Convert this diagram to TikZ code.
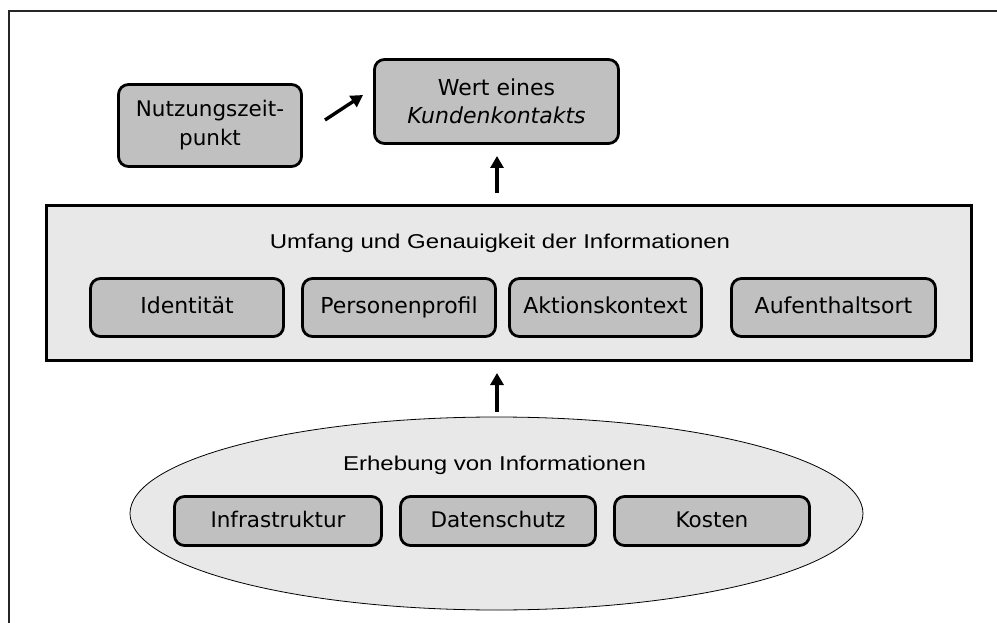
\documentclass[tikz,border=0pt]{standalone}
\usepackage{fontspec}
\setmainfont{DejaVu Sans}
\newfontfamily\arialfont{Liberation Sans}[FakeStretch=1.2]
\usetikzlibrary{shapes.geometric,arrows.meta}
\definecolor{boxgray}{HTML}{C0C0C0}
\definecolor{lightgray}{HTML}{E8E8E8}
\tikzset{
  box/.style={draw=black, line width=2.8pt, rounded corners=10pt, fill=boxgray,
    inner sep=0pt, align=center, font=\fontsize{22}{28}\selectfont},
  onebox/.style={box, text height=16pt, text depth=4pt},
  container/.style={draw=black, line width=2.8pt, fill=lightgray, inner sep=0pt},
  title/.style={font=\arialfont\fontsize{20}{24}\selectfont, inner sep=0pt},
  arr/.style={line width=3.4pt, -{Triangle[length=12pt,width=13pt]}},
}
\begin{document}
\begin{tikzpicture}[x=1pt,y=-1pt]
\useasboundingbox (0,0) rectangle (997,623);
\draw[line width=1.4pt, draw=black!85] (9,623) -- (9,11) -- (997,11);

% top boxes
\node[box, font=\fontsize{21.5}{29}\selectfont, minimum width=183pt, minimum height=82pt] (nz) at (210,125.5) {Nutzungszeit-\\punkt};
\node[box, minimum width=244pt, minimum height=84pt] (wert) at (496.5,101.5) {Wert eines\\\textit{Kundenkontakts}};

% container
\node[container, minimum width=925pt, minimum height=155pt] (cont) at (509,283) {};
\node[title] (umfang) at (500,243) {Umfang und Genauigkeit der Informationen};
\node[onebox, minimum width=193pt, minimum height=58pt] (id) at (187,307.5) {Identität};
\node[onebox, minimum width=193pt, minimum height=58pt] (pp) at (399,307.5) {Personenprofil};
\node[onebox, minimum width=192pt, minimum height=58pt] (ak) at (605.5,307.5) {Aktionskontext};
\node[onebox, minimum width=204pt, minimum height=58pt] (ao) at (833.5,307.5) {Aufenthaltsort};

% ellipse
\node[ellipse, draw=black, line width=0.8pt, fill=lightgray, minimum width=733pt, minimum height=193pt, inner sep=0pt] (ell) at (496.5,513.5) {};
\node[title] (erh) at (494.5,465) {Erhebung von Informationen};
\node[onebox, font=\fontsize{21.5}{26}\selectfont, minimum width=207pt, minimum height=49pt] (inf) at (278,521) {Infrastruktur};
\node[onebox, font=\fontsize{21.5}{26}\selectfont, minimum width=195pt, minimum height=49pt] (ds) at (498,521) {Datenschutz};
\node[onebox, font=\fontsize{21.5}{26}\selectfont, minimum width=195pt, minimum height=49pt] (ko) at (712,521) {Kosten};

% arrows
\coordinate (a1s) at (325,120);
\coordinate (a1e) at (363,95);
\draw[arr] (a1s) -- (a1e);
\coordinate (a2s) at (497,193);
\coordinate (a2e) at (497,156);
\draw[arr] (a2s) -- (a2e);
\coordinate (a3s) at (497,412);
\coordinate (a3e) at (497,373);
\draw[arr] (a3s) -- (a3e);
\end{tikzpicture}
\end{document}
